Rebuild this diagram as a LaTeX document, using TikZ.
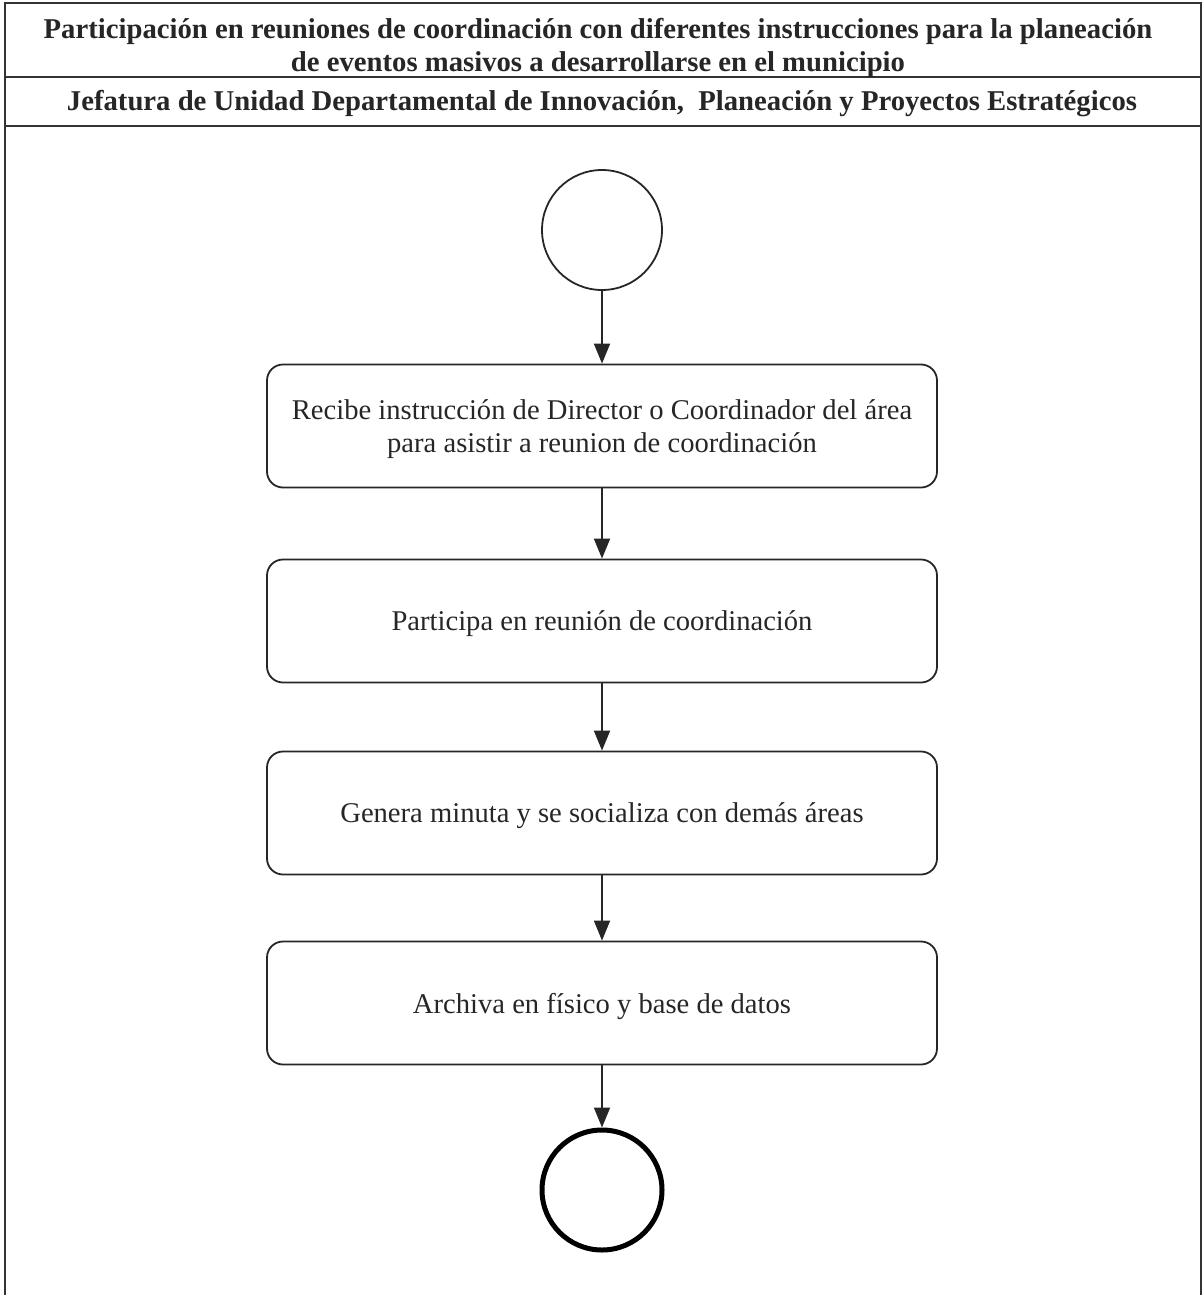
\documentclass[tikz,border=0pt]{standalone}
\usepackage{fontspec}
\setmainfont{Liberation Serif}
\usetikzlibrary{arrows.meta}
\begin{document}
\begin{tikzpicture}[x=1pt,y=-1pt,
  frameline/.style={line width=1.8pt, draw=black!80},
  stepbox/.style={draw=black!85, line width=1.8pt, rounded corners=16pt, minimum width=670pt, minimum height=123pt, align=center, text depth=0pt, font=\fontsize{28.6}{33}\selectfont, text=black!85},
  flow/.style={draw=black!85, line width=1.8pt, -{Triangle[length=20pt,width=16pt]}},
  hdr/.style={font=\bfseries\fontsize{28.7}{32.5}\selectfont, align=center, text=black!85}]
\useasboundingbox (0,0) rectangle (1204,1295);
% frame
\draw[frameline] (5,1295) -- (5,3) -- (1201,3) -- (1201,1295);
\draw[frameline] (5,77) -- (1201,77);
\draw[frameline] (5,126) -- (1201,126);
\node[hdr] (title) at (598,48) {Participación en reuniones de coordinación con diferentes instrucciones para la planeación\\de eventos masivos a desarrollarse en el municipio};
\node[hdr] (unit) at (602,104) {Jefatura de Unidad Departamental de Innovación,\ \ Planeación y Proyectos Estratégicos};
% flow
\node[draw=black!85, line width=1.8pt, circle, minimum size=120pt, inner sep=0pt] (start) at (602,230) {};
\node[stepbox] (s1) at (602,426) {Recibe instrucción de Director o Coordinador del área\\para asistir a reunion de coordinación};
\node[stepbox] (s2) at (602,621) {Participa en reunión de coordinación};
\node[stepbox] (s3) at (602,813) {Genera minuta y se socializa con demás áreas};
\node[stepbox] (s4) at (602,1003) {Archiva en físico y base de datos};
\node[draw=black, line width=5pt, circle, minimum size=120pt, inner sep=0pt] (end) at (602,1190) {};
\draw[flow] (start) -- (s1);
\draw[flow] (s1) -- (s2);
\draw[flow] (s2) -- (s3);
\draw[flow] (s3) -- (s4);
\draw[flow] (s4) -- (end);
\end{tikzpicture}
\end{document}
